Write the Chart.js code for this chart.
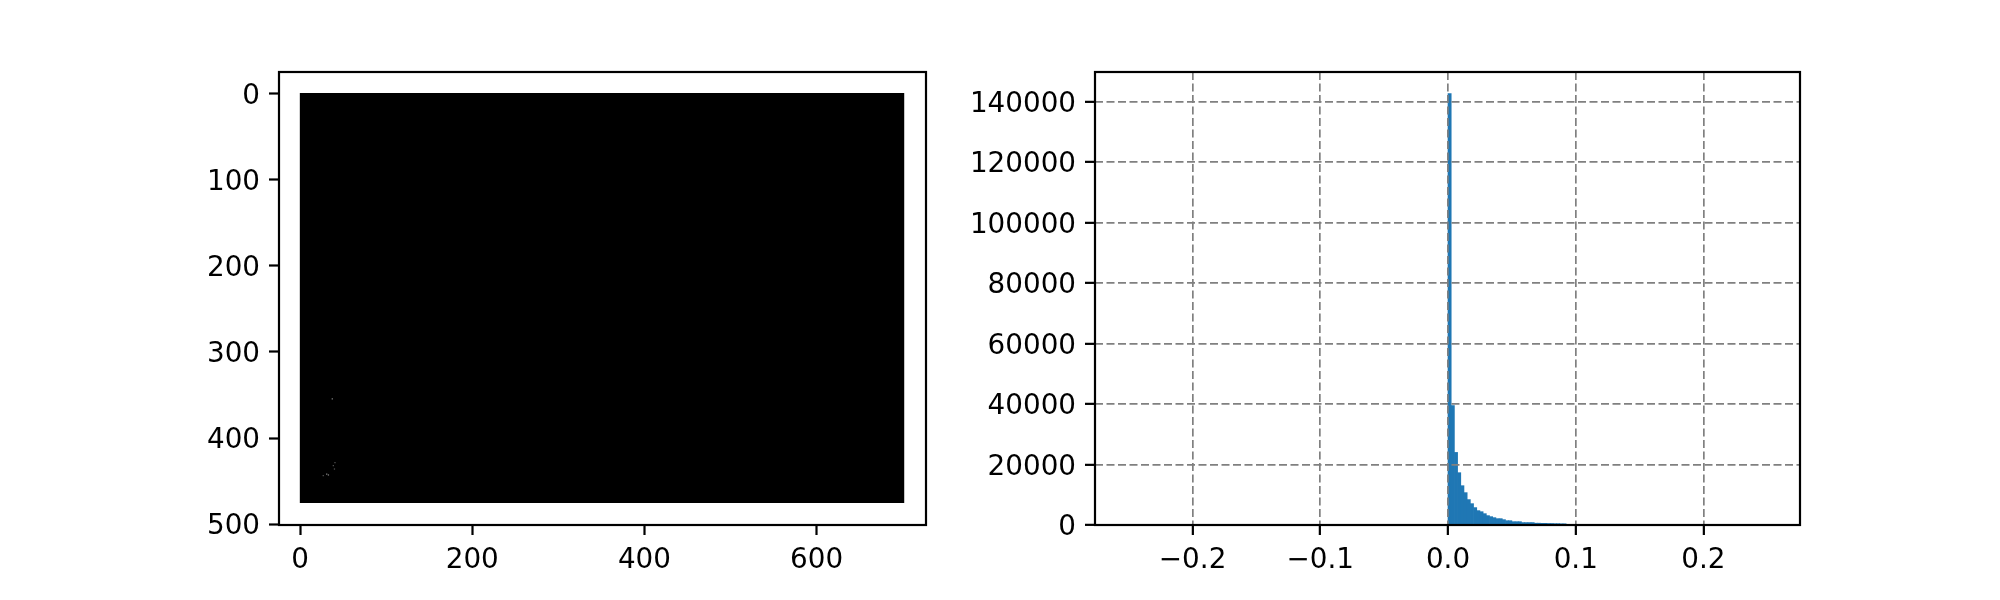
<!DOCTYPE html>
<html>
<head>
<meta charset="utf-8">
<style>
  html, body { margin: 0; background: #fff; }
  canvas { position: absolute; top: 0; }
</style>
<script src="https://cdn.jsdelivr.net/npm/chart.js@4"></script>
</head>
<body>
<canvas id="imgChart" width="1000" height="600" style="left:0"></canvas>
<canvas id="histChart" width="1100" height="600" style="left:900px"></canvas>
<script>
// left panel: extent of the image and the few pixels that are not black
const imageX = [-0.5, 702];
const imageTop = -0.5;
const imageBottom = 475.5;
const brightX = [37.5, 31, 33];
const brightY = [354.6, 442, 442.9];
const dimX = [27, 38.7, 40, 40.6];
const dimY = [443.7, 432, 436, 428.6];
const imgXTicks = [0, 200, 400, 600];
const imgYTicks = [0, 100, 200, 300, 400, 500];

// right panel: histogram bins that hold anything
const binCentres = [
  0.00125, 0.00375, 0.00625, 0.00875, 0.01125, 0.01375, 0.01625, 0.01875,
  0.02125, 0.02375, 0.02625, 0.02875, 0.03125, 0.03375, 0.03625, 0.03875,
  0.04125, 0.04375, 0.04625, 0.04875, 0.05125, 0.05375, 0.05625, 0.05875,
  0.06125, 0.06375, 0.06625, 0.06875, 0.07125, 0.07375, 0.07625, 0.07875,
  0.08125, 0.08375, 0.08625, 0.08875, 0.09125
];
const binCounts = [
  142700, 39500, 24000, 17300, 13000, 10700, 8400, 7060,
  5750, 4750, 4400, 3750, 3100, 2760, 2430, 2100,
  2100, 1770, 1430, 1430, 1100, 1100, 1100, 800,
  800, 800, 800, 600, 600, 550, 550, 500,
  500, 450, 450, 400, 400
];
const histXTicks = [-0.2, -0.1, 0, 0.1, 0.2];
const histYTicks = [0, 20000, 40000, 60000, 80000, 100000, 120000, 140000];

const tickFont = { family: 'DejaVu Sans', size: 27.8 };

// top and right spines too
const frame = {
  id: 'frame',
  afterDraw(chart) {
    const { ctx, chartArea: a } = chart;
    ctx.save();
    ctx.strokeStyle = '#000';
    ctx.lineWidth = 2.2;
    ctx.strokeRect(a.left, a.top, a.right - a.left, a.bottom - a.top);
    ctx.restore();
  }
};

function axis(min, max, ticks, fmt, labelOffset, extra) {
  return Object.assign({
    type: 'linear',
    min: min,
    max: max,
    afterBuildTicks: s => { s.ticks = ticks.map(v => ({ value: v })); },
    ticks: {
      color: '#000',
      font: tickFont,
      padding: 9,
      labelOffset: labelOffset,
      autoSkip: false,
      maxRotation: 0,
      callback: fmt
    },
    border: { display: false }
  }, extra);
}

function pinned(size) {
  return s => {
    if (s.isHorizontal()) s.height = size; else s.width = size;
  };
}

const plain = v => String(v);
const signed = v => v.toFixed(1).replace('-', '\u2212');
const tickGrid = { drawOnChartArea: false, tickLength: 10, tickWidth: 2.2, tickColor: '#000' };
const dashGrid = {
  color: 'gray', lineWidth: 1.7, z: 1,
  tickLength: 10, tickWidth: 2.2, tickColor: '#000', tickBorderDash: []
};

Chart.defaults.animation = false;
Chart.defaults.responsive = false;
Chart.defaults.devicePixelRatio = 1;
Chart.defaults.plugins.legend.display = false;
Chart.defaults.plugins.tooltip.enabled = false;

new Chart(document.getElementById('imgChart'), {
  type: 'scatter',
  data: {
    datasets: [
      {
        type: 'scatter',
        data: brightX.map((x, i) => ({ x: x, y: brightY[i] })),
        pointStyle: 'rect', pointRadius: 0.9, borderWidth: 0,
        backgroundColor: '#808080', order: 1
      },
      {
        type: 'scatter',
        data: dimX.map((x, i) => ({ x: x, y: dimY[i] })),
        pointStyle: 'rect', pointRadius: 0.9, borderWidth: 0,
        backgroundColor: '#505050', order: 1
      },
      {
        type: 'line',
        data: imageX.map(x => ({ x: x, y: imageTop })),
        fill: { value: imageBottom },
        backgroundColor: '#000', borderWidth: 0, pointRadius: 0, order: 2
      }
    ]
  },
  options: {
    layout: { padding: { left: 179, right: 74, top: 72, bottom: 25 } },
    scales: {
      x: axis(-24.4, 727, imgXTicks, plain, 0, { grid: tickGrid, afterFit: pinned(50) }),
      y: axis(-25, 501, imgYTicks, plain, 3, { reverse: true, grid: tickGrid, afterFit: pinned(100) })
    }
  },
  plugins: [frame]
});

new Chart(document.getElementById('histChart'), {
  type: 'bar',
  data: {
    datasets: [{
      data: binCentres.map((x, i) => ({ x: x, y: binCounts[i] })),
      backgroundColor: '#1f77b4',
      borderWidth: 0,
      barPercentage: 1,
      categoryPercentage: 1
    }]
  },
  options: {
    layout: { padding: { left: 50, right: 200, top: 72, bottom: 25 } },
    scales: {
      x: axis(-0.2764, 0.2756, histXTicks, signed, 0, {
        offset: false,
        grid: Object.assign({ offset: false }, dashGrid),
        border: { display: false, dash: [8, 3.5] },
        afterFit: pinned(50)
      }),
      y: axis(0, 149800, histYTicks, plain, 3, {
        grid: dashGrid,
        border: { display: false, dash: [8, 3.5] },
        afterFit: pinned(145)
      })
    }
  },
  plugins: [frame]
});
</script>
</body>
</html>
